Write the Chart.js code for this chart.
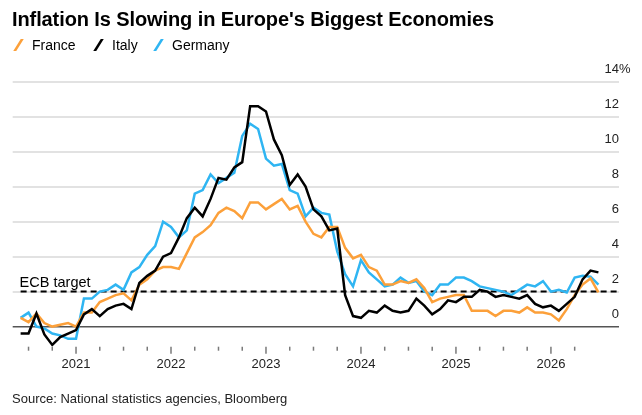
<!DOCTYPE html>
<html>
<head>
<meta charset="utf-8">
<script src="https://cdn.jsdelivr.net/npm/chart.js@4.4.1/dist/chart.umd.min.js"></script>
<style>
  html, body { margin: 0; padding: 0; background: #fff; }
  #cadre { position: relative; width: 642px; height: 415px; font-family: "Liberation Sans", Arial, sans-serif; color: #000; overflow: hidden; }
  #graphique { position: absolute; left: 0; top: 0; }
  .texte { position: absolute; white-space: nowrap; }
  #titre { left: 12px; top: 9px; font-size: 20px; line-height: 20px; font-weight: bold; letter-spacing: -0.1px; }
  .legende { top: 38px; font-size: 14px; line-height: 14px; }
  .trait { position: absolute; top: 1px; width: 3px; height: 12px; transform: skewX(-32deg); }
  .legende span.nom { position: absolute; white-space: nowrap; }
  #source { left: 12px; top: 392px; font-size: 13px; line-height: 13px; color: #222; }
</style>
</head>
<body>
<div id="cadre">
  <canvas id="graphique" width="642" height="415"></canvas>
  <div id="titre" class="texte">Inflation Is Slowing in Europe's Biggest Economies</div>
  <div id="legendes"></div>
  <div id="source" class="texte">Source: National statistics agencies, Bloomberg</div>
</div>
<script>
// Donnees : mai 2020 -> juin 2026, un point par mois (place en fin de mois)
const annees = ['2021', '2022', '2023', '2024', '2025', '2026'];
const graduationsY = [0, 2, 4, 6, 8, 10, 12, 14];
const premierMois = -7; // position x de mai 2020 (0 = debut janvier 2021)
const cibleBCE = 2;

const france = [
    0.5, 0.25, 0.75, 0.2, 0.0, 0.1, 0.2, 0.0,
    0.8, 0.8, 1.4, 1.6, 1.8, 1.9, 1.5, 2.4, 2.7, 3.2, 3.4, 3.4,
    3.3, 4.2, 5.1, 5.4, 5.8, 6.5, 6.8, 6.6, 6.2, 7.1, 7.1, 6.7,
    7.0, 7.3, 6.7, 6.9, 6.0, 5.3, 5.1, 5.7, 5.7, 4.5, 3.9, 4.1,
    3.4, 3.2, 2.4, 2.4, 2.6, 2.5, 2.7, 2.2, 1.4, 1.6, 1.7, 1.8,
    1.8, 0.9, 0.9, 0.9, 0.6, 0.9, 0.9, 0.8, 1.1, 0.8, 0.8, 0.7,
    0.35, 1.0, 1.8, 2.4, 2.75, 1.95
];
const italie = [
    -0.4, -0.4, 0.75, -0.45, -1.05, -0.6, -0.4, -0.2,
    0.7, 1.0, 0.6, 1.0, 1.2, 1.3, 1.0, 2.5, 2.9, 3.2, 4.0, 4.2,
    5.1, 6.2, 6.8, 6.3, 7.3, 8.5, 8.4, 9.1, 9.4, 12.6, 12.6, 12.3,
    10.7, 9.8, 8.1, 8.7, 8.0, 6.7, 6.3, 5.5, 5.6, 1.8, 0.6, 0.5,
    0.9, 0.8, 1.2, 0.9, 0.8, 0.9, 1.6, 1.2, 0.7, 1.0, 1.5, 1.4,
    1.7, 1.7, 2.1, 2.0, 1.7, 1.8, 1.7, 1.6, 1.8, 1.3, 1.1, 1.2,
    0.9, 1.3, 1.7, 2.7, 3.2, 3.1
];
const allemagne = [
    0.5, 0.8, 0.0, -0.1, -0.4, -0.5, -0.7, -0.7,
    1.6, 1.6, 2.0, 2.1, 2.4, 2.1, 3.1, 3.4, 4.1, 4.6, 6.0, 5.7,
    5.1, 5.5, 7.6, 7.8, 8.7, 8.2, 8.5, 8.8, 10.9, 11.6, 11.3, 9.6,
    9.2, 9.3, 7.8, 7.6, 6.3, 6.8, 6.5, 6.4, 4.3, 3.0, 2.3, 3.8,
    3.1, 2.7, 2.3, 2.4, 2.8, 2.5, 2.6, 2.0, 1.8, 2.4, 2.4, 2.8,
    2.8, 2.6, 2.3, 2.2, 2.1, 2.0, 1.8, 2.1, 2.4, 2.3, 2.6, 2.0,
    2.1, 1.95, 2.8, 2.9, 2.85, 2.4
];

const couleurs = { france: '#fca03a', italie: '#000000', allemagne: '#2fb5f2' };
const police = '"Liberation Sans", Arial, sans-serif';

// transforme une serie en points {x, y}
function versPoints(serie) {
    return serie.map((v, i) => ({ x: premierMois + i, y: v }));
}

// legende faite a la main (petits traits obliques)
const legendes = [
    { nom: 'France', couleur: couleurs.france, x: 14 },
    { nom: 'Italy', couleur: couleurs.italie, x: 94 },
    { nom: 'Germany', couleur: couleurs.allemagne, x: 154 }
];
const zoneLegende = document.getElementById('legendes');
legendes.forEach(l => {
    const div = document.createElement('div');
    div.className = 'texte legende';
    div.style.left = l.x + 'px';
    div.innerHTML = `<span class="trait" style="left:3px;background:${l.couleur}"></span><span class="nom" style="left:18px">${l.nom}</span>`;
    zoneLegende.appendChild(div);
});

// graduations sous l'axe, texte "ECB target" et le signe %
const decorations = {
    id: 'decorations',
    afterDatasetsDraw(chart) {
        const { ctx, chartArea, scales } = chart;
        const x = scales.x, y = scales.y;
        ctx.save();
        ctx.strokeStyle = '#7a7a7a';
        ctx.lineWidth = 1.5;
        x.ticks.forEach(t => {
            const px = x.getPixelForValue(t.value);
            const longueur = t.value % 12 === 0 ? 7 : 4;
            ctx.beginPath();
            ctx.moveTo(px, chartArea.bottom);
            ctx.lineTo(px, chartArea.bottom + longueur);
            ctx.stroke();
        });
        ctx.fillStyle = '#000';
        ctx.font = '14.5px ' + police;
        ctx.textBaseline = 'alphabetic';
        ctx.textAlign = 'left';
        ctx.fillText('ECB target', x.getPixelForValue(premierMois) - 1, y.getPixelForValue(cibleBCE) - 5);
        ctx.font = '13px ' + police;
        ctx.fillStyle = '#222';
        ctx.textBaseline = 'middle';
        ctx.fillText('%', chartArea.right, y.getPixelForValue(14) - 12);
        ctx.restore();
    }
};

const ctx = document.getElementById('graphique').getContext('2d');
new Chart(ctx, {
    type: 'line',
    data: {
        datasets: [
            { label: 'Italy', data: versPoints(italie), borderColor: couleurs.italie, order: 0 },
            { label: 'France', data: versPoints(france), borderColor: couleurs.france, order: 1 },
            { label: 'Germany', data: versPoints(allemagne), borderColor: couleurs.allemagne, order: 2 },
            {
                label: 'ECB target',
                data: [{ x: premierMois, y: cibleBCE }, { x: 68.6, y: cibleBCE }],
                borderColor: '#000',
                borderWidth: 2,
                borderDash: [6, 4],
                order: 3
            }
        ]
    },
    options: {
        responsive: false,
        animation: false,
        devicePixelRatio: 1,
        layout: { padding: { left: 12.7, right: 23, top: 81.7, bottom: 38.3 } },
        elements: {
            line: { borderWidth: 2.5, tension: 0, fill: false },
            point: { radius: 0 }
        },
        plugins: {
            legend: { display: false },
            tooltip: { enabled: false }
        },
        scales: {
            x: {
                type: 'linear',
                min: -8,
                max: 68.6,
                grid: { display: false, drawTicks: false },
                border: { display: false },
                afterBuildTicks: scale => {
                    const liste = [];
                    for (let v = -6; v <= 63; v += 3) liste.push({ value: v });
                    scale.ticks = liste;
                },
                afterFit: scale => { scale.height = 30; },
                ticks: {
                    autoSkip: false,
                    maxRotation: 0,
                    padding: 9.5,
                    color: '#222',
                    font: { family: police, size: 13 },
                    callback: v => (v % 12 === 0 ? annees[v / 12] : '')
                }
            },
            y: {
                position: 'right',
                min: -1.15,
                max: 14,
                afterBuildTicks: scale => {
                    scale.ticks = graduationsY.map(v => ({ value: v }));
                },
                afterFit: scale => { scale.width = 0; },
                grid: {
                    drawTicks: false,
                    color: c => (c.tick && c.tick.value === 0 ? '#555' : '#e2e2e2'),
                    lineWidth: c => (c.tick && c.tick.value === 0 ? 1.5 : 2)
                },
                border: { display: false },
                ticks: {
                    mirror: true,
                    padding: 0,
                    labelOffset: -12,
                    color: '#222',
                    font: { family: police, size: 13 },
                    callback: v => String(v)
                }
            }
        }
    },
    plugins: [decorations]
});
</script>
</body>
</html>
